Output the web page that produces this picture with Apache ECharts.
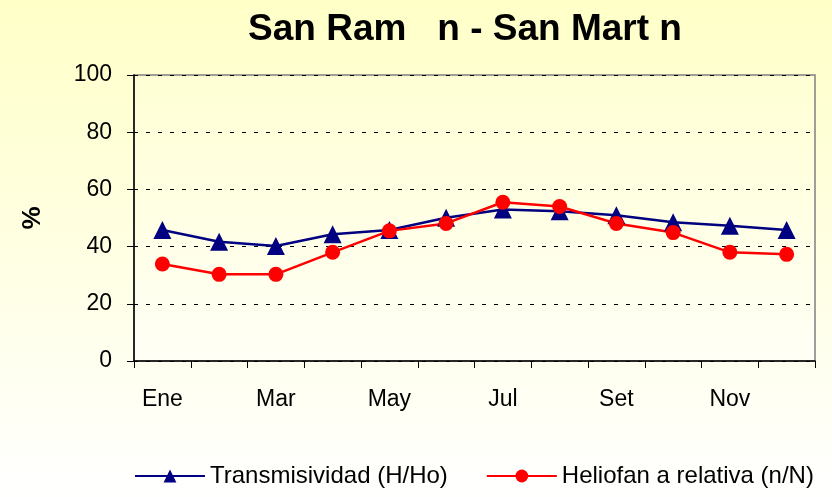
<!DOCTYPE html>
<html>
<head>
<meta charset="utf-8">
<script src="https://cdn.jsdelivr.net/npm/echarts@6/dist/echarts.min.js"></script>
<style>
  html, body { margin: 0; padding: 0; }
  #chart { width: 832px; height: 497px; }
</style>
</head>
<body>
<div id="chart"></div>
<script>
// meses
const months = ['Ene', 'Feb', 'Mar', 'Abr', 'May', 'Jun', 'Jul', 'Ago', 'Set', 'Oct', 'Nov', 'Dic']
// Transmisividad (H/Ho)
const transmisividad = [45.8, 41.7, 40.2, 44.3, 45.8, 50.1, 53.0, 52.4, 51.0, 48.5, 47.3, 45.8]
// Heliofania relativa (n/N)
const heliofania = [33.9, 30.3, 30.3, 38.0, 45.5, 48.1, 55.5, 54.0, 48.1, 44.9, 38.0, 37.3]

const chart = echarts.init(document.getElementById('chart'))
const font = 'Liberation Sans, Arial, sans-serif'

const option = {
  animation: false,
  backgroundColor: {
    type: 'linear', x: 0, y: 0, x2: 0, y2: 1,
    colorStops: [
      { offset: 0, color: '#FFFFC8' },
      { offset: 0.6, color: '#FFFFE8' },
      { offset: 1, color: '#FFFFFF' }
    ]
  },
  title: {
    text: 'San Ram   n - San Mart n',
    left: 460,
    textAlign: 'center',
    top: 6,
    textStyle: { fontFamily: font, fontSize: 37, fontWeight: 'bold', color: '#000' }
  },
  legend: {
    top: 459,
    left: 129,
    itemWidth: 70,
    itemHeight: 16,
    itemGap: 38,
    textStyle: { fontFamily: font, fontSize: 24, color: '#000' },
    data: ['Transmisividad (H/Ho)', 'Heliofan a relativa (n/N)']
  },
  grid: {
    left: 134, right: 17, top: 75, bottom: 136,
    show: true,
    borderColor: '#808080',
    borderWidth: 1.5,
    backgroundColor: {
      type: 'linear', x: 0, y: 0, x2: 0, y2: 1,
      colorStops: [
        { offset: 0, color: '#FFFFD4' },
        { offset: 1, color: '#FFFFF6' }
      ]
    }
  },
  xAxis: {
    type: 'category',
    data: months,
    boundaryGap: true,
    axisLine: { lineStyle: { color: '#000', width: 1.5 } },
    axisTick: { show: true, interval: 0, length: 7, lineStyle: { color: '#000' } },
    axisLabel: { interval: 1, margin: 27, fontFamily: font, fontSize: 23, color: '#000' }
  },
  yAxis: {
    type: 'value',
    min: 0, max: 100, interval: 20,
    name: '%',
    nameLocation: 'middle',
    nameRotate: 90,
    nameGap: 88,
    nameTextStyle: { fontFamily: font, fontSize: 26, fontWeight: 'bold', color: '#000' },
    axisLine: { show: true, lineStyle: { color: '#000', width: 1.5 } },
    axisTick: { show: true, length: 7, lineStyle: { color: '#000' } },
    axisLabel: { margin: 22, fontFamily: font, fontSize: 23, color: '#000' },
    splitLine: { lineStyle: { color: '#000', type: [4, 8], width: 1 } }
  },
  series: [
    {
      name: 'Transmisividad (H/Ho)',
      type: 'line',
      data: transmisividad,
      symbol: 'triangle',
      symbolSize: 18,
      color: '#000080',
      lineStyle: { width: 2.5, color: '#000080' },
      itemStyle: { color: '#000080' }
    },
    {
      name: 'Heliofan a relativa (n/N)',
      type: 'line',
      data: heliofania,
      symbol: 'circle',
      symbolSize: 15,
      color: '#FF0000',
      lineStyle: { width: 2.5, color: '#FF0000' },
      itemStyle: { color: '#FF0000' }
    }
  ]
}

chart.setOption(option)
</script>
</body>
</html>
